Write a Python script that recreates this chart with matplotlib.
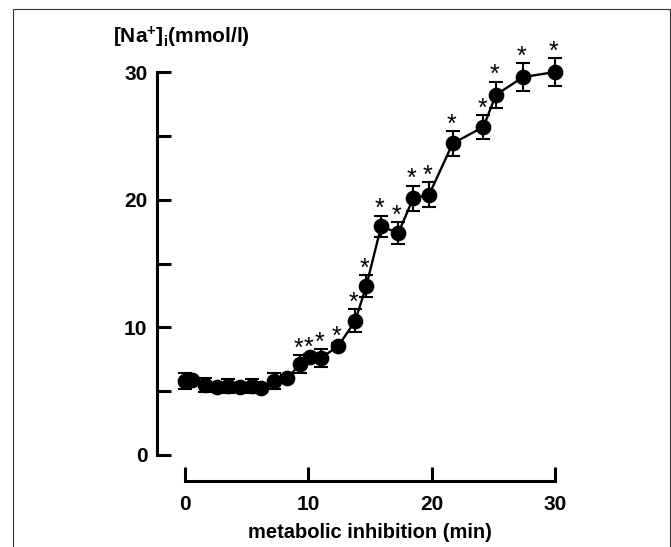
import matplotlib
matplotlib.use('Agg')
import matplotlib.pyplot as plt
from matplotlib.patches import Rectangle

plt.rcParams['font.family'] = ['Liberation Sans', 'DejaVu Sans']
plt.rcParams['font.weight'] = 'bold'
plt.rcParams['mathtext.fontset'] = 'custom'
plt.rcParams['mathtext.rm'] = 'Liberation Sans:bold'
plt.rcParams['mathtext.it'] = 'Liberation Sans:bold'
plt.rcParams['mathtext.bf'] = 'Liberation Sans:bold'

# time (min) and intracellular Na+ (mmol/l)
time_min = [0.0, 0.6, 1.6, 2.6, 3.5, 4.5, 5.4, 6.2, 7.2, 8.3, 9.3, 10.1, 11.0,
            12.4, 13.8, 14.7, 15.9, 17.3, 18.5, 19.8, 21.7, 24.2, 25.2, 27.4, 30.0]
na_conc = [5.8, 5.85, 5.5, 5.3, 5.4, 5.3, 5.4, 5.25, 5.8, 6.0, 7.1, 7.65, 7.6,
           8.5, 10.5, 13.25, 17.9, 17.4, 20.1, 20.4, 24.4, 25.7, 28.2, 29.6, 30.0]
na_sem = [0.6, 0.25, 0.55, 0.25, 0.55, 0.25, 0.55, 0.25, 0.6, 0.25, 0.7, 0.25, 0.7,
          0.25, 0.9, 0.85, 0.85, 0.85, 1.0, 1.0, 1.0, 0.95, 1.05, 1.1, 1.1]
# significant points (asterisk)
signif = [False] * 10 + [True] * 15

fig = plt.figure(figsize=(6.71, 5.47), dpi=100)
ax = fig.add_axes([185 / 671, 92 / 547, 370 / 671, 383 / 547])

ax.errorbar(time_min, na_conc, yerr=na_sem, color='black', lw=1.7,
            marker='o', markersize=10.3, elinewidth=1.5, capsize=4.8,
            capthick=1.5, clip_on=False, zorder=3)

for x, y, e, s in zip(time_min, na_conc, na_sem, signif):
    if s:
        ax.annotate('*', xy=(x, y + e), xytext=(-1, -0.5), textcoords='offset points',
                    ha='center', va='baseline', fontsize=18, fontweight='normal',
                    annotation_clip=False)

ax.set_xlim(0, 30)
ax.set_ylim(0, 30)
ax.set_xticks([0, 10, 20, 30])
ax.set_yticks([0, 5, 10, 15, 20, 25, 30])
ax.set_yticklabels(['0', '', '10', '', '20', '', '30'])

for side in ['top', 'right']:
    ax.spines[side].set_visible(False)
ax.spines['left'].set_position(('outward', 20))
ax.spines['bottom'].set_position(('outward', 19))
ax.spines['left'].set_bounds(0, 30)
ax.spines['bottom'].set_bounds(0, 30)
for side in ['left', 'bottom']:
    ax.spines[side].set_linewidth(2.2)

ax.tick_params(axis='y', direction='in', length=10, width=2.2, pad=7, labelsize=15)
ax.tick_params(axis='x', direction='in', length=10, width=2.2, pad=10, labelsize=15)

ax.set_xlabel('metabolic inhibition (min)', fontsize=14.5, fontweight='bold', labelpad=6)
fig.text(113 / 671, 1 - 37 / 547, r'[Na$^{+}$]$_{\mathrm{i}}$(mmol/l)', fontsize=15,
         fontweight='bold', ha='left', va='center')

fig.add_artist(Rectangle((13 / 671, -0.1), 657 / 671, 0.1 + 538 / 547,
                         transform=fig.transFigure, fill=False,
                         edgecolor='#333333', linewidth=0.8))

fig.savefig('out.png', dpi=100)
